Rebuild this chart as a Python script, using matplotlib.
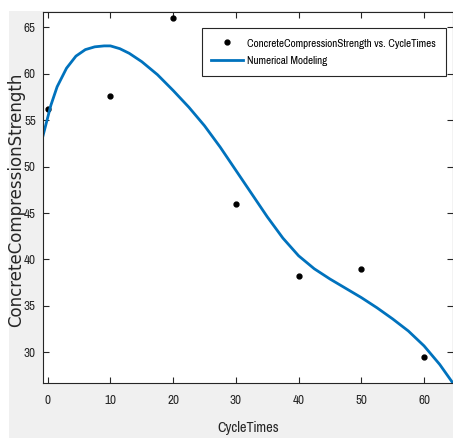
import matplotlib.pyplot as plt
from matplotlib.patches import Rectangle
from matplotlib import font_manager
from matplotlib.font_manager import FontProperties
from matplotlib.textpath import TextPath

# measured data points
cycle_times = [0, 10, 20, 30, 40, 50, 60]
strength = [56.2, 57.6, 66.0, 46.0, 38.2, 39.0, 29.5]

# numerical modeling curve
model_x = [-0.8, 0.5, 1.5, 3, 4.5, 6, 7.5, 9, 10, 11.5, 13, 15, 17.5, 20, 22.5, 25,
           27.5, 30, 32.5, 35, 37.5, 40, 42.5, 45, 47.5, 50, 52.5, 55, 57.5, 60, 62.5, 64.7]
model_y = [53.2, 56.6, 58.6, 60.6, 61.9, 62.6, 62.9, 63.0, 63.0, 62.7, 62.2, 61.3, 59.9, 58.2,
           56.4, 54.4, 52.1, 49.6, 47.1, 44.6, 42.3, 40.4, 39.0, 37.9, 36.9, 35.9, 34.8, 33.6,
           32.3, 30.7, 28.7, 26.6]

xlabel = 'CycleTimes'
ylabel = 'ConcreteCompressionStrength'
labels = ['ConcreteCompressionStrength vs. CycleTimes', 'Numerical Modeling']

# pick a narrow sans font if one is around
names = set(f.name for f in font_manager.fontManager.ttflist)
narrow = 'Liberation Sans'
for cand in ['Liberation Sans Narrow', 'Arial Narrow', 'Pragati Narrow', 'Roboto Condensed',
             'PT Sans Narrow', 'Archivo Narrow', 'Fira Sans Condensed']:
    if cand in names:
        narrow = cand
        break


def fit_size(text, family, width_px):
    # font size (pt) that makes text about width_px wide at 100 dpi
    w = TextPath((0, 0), text, size=10, prop=FontProperties(family=family)).get_extents().width
    return 10 * width_px / (w * 100 / 72)


fig = plt.figure(figsize=(4.53, 4.38), dpi=100, facecolor='white')
fig.patches.append(Rectangle((9/453, 0), 1, 1 - 11/438, transform=fig.transFigure,
                             facecolor='#f0f0f0', edgecolor='none', zorder=-5))

ax = fig.add_axes([42.7/453, 1 - 383/438, (453.5 - 42.7)/453, (383 - 12)/438])
ax.set_zorder(2)
ax.set_facecolor('white')

ax.plot(cycle_times, strength, 'k.', markersize=7, label=labels[0])
ax.plot(model_x, model_y, color='#0072BD', lw=2, label=labels[1])

ax.set_xlim(-0.8, 64.7)
ax.set_ylim(26.7, 66.65)
ax.set_xticks(range(0, 61, 10))
ax.set_yticks(range(30, 66, 5))
tick_fs = min(11.5, fit_size('65', narrow, 11))
ax.tick_params(direction='in', length=4, width=0.8, top=True, right=True,
               colors='#262626', labelsize=tick_fs, pad=5)
for lbl in ax.get_xticklabels() + ax.get_yticklabels():
    lbl.set_fontfamily(narrow)
ax.tick_params(axis='x', pad=9)
for s in ax.spines.values():
    s.set_color('#262626')
    s.set_linewidth(0.8)

ax.set_xlabel(xlabel, family=narrow, fontsize=min(14, fit_size(xlabel, narrow, 60)),
              color='#262626', va='center')
ax.xaxis.set_label_coords(0.5, -0.121)
ax.set_ylabel(ylabel, family='DejaVu Sans', fontsize=12,
              color='#262626', va='center')
ax.yaxis.set_label_coords(-0.064, 0.493)

leg_fs = fit_size(labels[0], narrow, 189)
leg = ax.legend(loc='upper right', bbox_to_anchor=(0.981, 0.956), fancybox=False,
                framealpha=1, edgecolor='#262626', prop={'family': narrow, 'size': leg_fs},
                handlelength=2.6, handletextpad=0.35, borderpad=0.8, labelspacing=0.6,
                borderaxespad=0)
leg.get_frame().set_linewidth(0.8)

fig.savefig('out.png', dpi=100, facecolor=fig.get_facecolor())
